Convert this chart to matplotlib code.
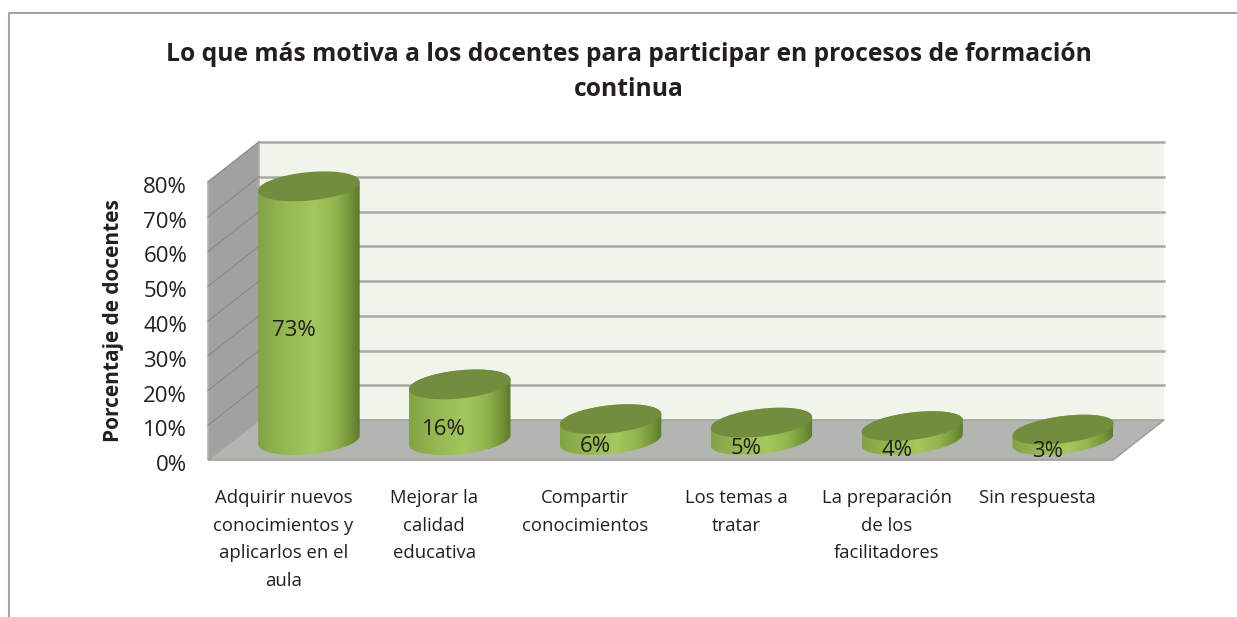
import numpy as np
import matplotlib
matplotlib.use('Agg')
import matplotlib.pyplot as plt
from matplotlib.colors import LinearSegmentedColormap
from matplotlib.lines import Line2D
from matplotlib.patches import Polygon
from matplotlib.transforms import ScaledTranslation

## data ##
categories = ['Adquirir nuevos\nconocimientos y\naplicarlos en el\naula',
              'Mejorar la\ncalidad\neducativa',
              'Compartir\nconocimientos',
              'Los temas a\ntratar',
              'La preparación\nde los\nfacilitadores',
              'Sin respuesta']
values = [73, 16, 6, 5, 4, 3]
yticks = [0, 10, 20, 30, 40, 50, 60, 70, 80]
title = 'Lo que más motiva a los docentes para participar en procesos de formación\ncontinua'
ylabel = 'Porcentaje de docentes'

plt.rcParams['font.family'] = ['Open Sans', 'DejaVu Sans']
text_color = '#231f20'

# front plane of the fake 3d box, in pixels
W, H = 1237, 617
left, right, top, bottom = 208, 1113, 182, 460
sx = (right - left) / len(categories)
sy = (bottom - top) / 80
# depth of the box in data units
dx, dy = 51 / sx, 40 / sy

fig = plt.figure(figsize=(W / 100, H / 100), dpi=100, facecolor='white')
ax = fig.add_axes([left / W, 1 - bottom / H, (right - left) / W, (bottom - top) / H])
ax.patch.set_visible(False)
for s in ax.spines.values():
    s.set_visible(False)

n = len(categories)

# walls and floor
ax.add_patch(Polygon([(dx, dy), (n + dx, dy), (n + dx, 80 + dy), (dx, 80 + dy)],
                     fc='#f1f4ea', ec='none', clip_on=False, zorder=1))
ax.add_patch(Polygon([(0, 0), (dx, dy), (dx, 80 + dy), (0, 80)],
                     fc='#a0a29e', ec='#b0b2ae', lw=1.2, clip_on=False, zorder=1))
ax.add_patch(Polygon([(0, 0), (dx, dy), (n + dx, dy), (n, 0)],
                     fc='#b3b5b0', ec='#a0a29e', lw=1.2, clip_on=False, zorder=1))

# gridlines
for v in yticks[1:]:
    ax.plot([dx, n + dx], [v + dy, v + dy], color='#a9aba6', lw=1.8, clip_on=False, zorder=2)
    ax.plot([0, dx], [v, v + dy], color='#8a8c88', lw=0.9, clip_on=False, zorder=2)

# cylinders
body_cmap = LinearSegmentedColormap.from_list(
    'body', [(0, '#82a346'), (0.25, '#94b752'), (0.55, '#a3c85d'), (0.75, '#93b551'),
             (0.9, '#769639'), (1, '#5c7a2e')])
half_w = 51
half_up = 15

def ellipse_pts(xc, yc, tilt, t):
    # offsets are worked out in pixels so the tilt stays right, then go back to data units
    b = np.sqrt(half_up**2 - (half_w * np.sin(tilt))**2)
    px = half_w * np.cos(t) * np.cos(tilt) - b * np.sin(t) * np.sin(tilt)
    py = half_w * np.cos(t) * np.sin(tilt) + b * np.sin(t) * np.cos(tilt)
    return np.column_stack([xc + px / sx, yc + py / sy])

for i, v in enumerate(values):
    xc = i + 0.5 + dx / 2
    y0 = dy / 2
    y1 = v + dy / 2
    tilt = np.radians(5.5 + 0.4 * i)
    b = np.sqrt(half_up**2 - (half_w * np.sin(tilt))**2)
    t0 = np.arctan2(-b * np.sin(tilt), half_w * np.cos(tilt))

    low = ellipse_pts(xc, y0, tilt, np.linspace(t0 + np.pi, t0 + 2 * np.pi, 60))
    high = ellipse_pts(xc, y1, tilt, np.linspace(t0, t0 + np.pi, 60))
    outline = np.vstack([low, high])

    grad = np.linspace(0, 1, 128).reshape(1, -1)
    im = ax.imshow(grad, cmap=body_cmap, aspect='auto', zorder=3,
                   extent=[outline[:, 0].min(), outline[:, 0].max(),
                           outline[:, 1].min(), outline[:, 1].max()])
    im.set_clip_path(Polygon(outline, transform=ax.transData))

    cap = ellipse_pts(xc, y1, tilt, np.linspace(0, 2 * np.pi, 120))
    ax.add_patch(Polygon(cap, fc='#728d3e', ec='none', clip_on=False, zorder=4))

    ax.text(i + 0.5 + 10 / sx, v / 2 + 3 / sy, f'{v}%', ha='center', va='center',
            fontsize=16, color=text_color, zorder=5)

ax.set_xlim(0, n)
ax.set_ylim(0, 80)

ax.set_yticks(yticks)
ax.set_yticklabels([f'{v}%' for v in yticks], fontsize=16, color=text_color)
ax.set_xticks(np.arange(n) + 0.5)
ax.set_xticklabels(categories, fontsize=13.3, color=text_color, linespacing=1.69)
ax.tick_params(axis='y', length=0, pad=15)
ax.tick_params(axis='x', length=0, pad=21)
for lab in ax.get_yticklabels():
    lab.set_transform(lab.get_transform() + ScaledTranslation(0, -3 / 100, fig.dpi_scale_trans))

ax.set_ylabel(ylabel, fontsize=15, fontweight='bold', color=text_color)
ax.yaxis.set_label_coords((124 - left) / (right - left), (bottom - 321) / (bottom - top))

fig.suptitle(title, x=629 / W, y=1 - 72 / H, va='center', ha='center', fontsize=17.7,
             fontweight='bold', color=text_color, linespacing=1.55)

# outer chart border, only top and left are in the crop
fig.add_artist(Line2D([9 / W, 9 / W, 1], [0, 1 - 13 / H, 1 - 13 / H], color='#a3a3a3', lw=1.5))

fig.savefig('out.png', dpi=100)
